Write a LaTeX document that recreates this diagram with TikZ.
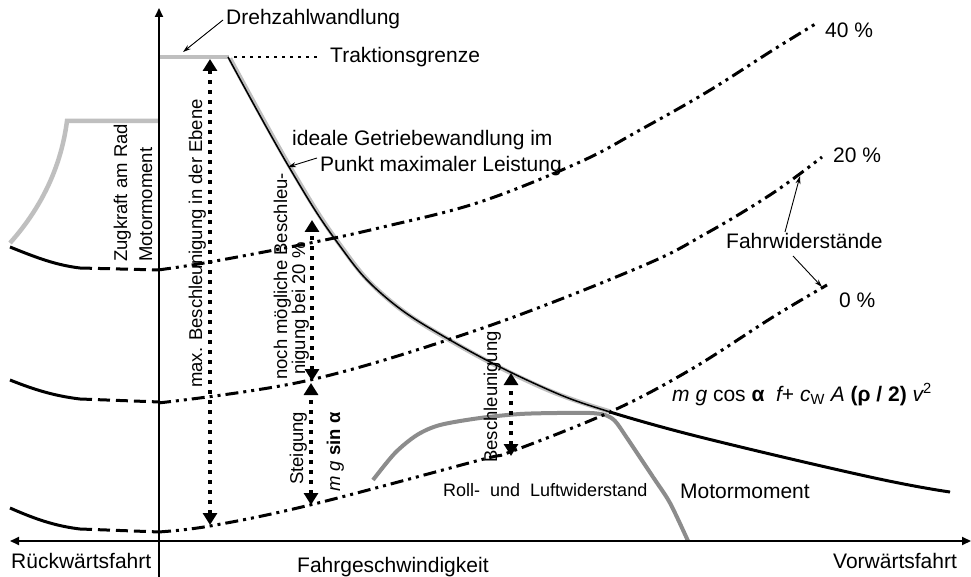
\documentclass[tikz,border=0pt]{standalone}
\usepackage{fontspec}
\setmainfont{Liberation Sans}
\usetikzlibrary{arrows.meta}
\begin{document}
\begin{tikzpicture}[x=1pt,y=-1pt,
  axis/.style={line width=2pt},
  fw/.style={line width=3pt, dash pattern=on 13pt off 5pt on 3pt off 5pt on 3pt off 5pt},
  backsolid/.style={line width=3pt},
  backdash/.style={line width=3pt, dash pattern=on 12pt off 6pt},
  dotarr/.style={line width=3.5pt, dash pattern=on 3.5pt off 6.5pt, {Triangle[width=14pt,length=12pt]}-{Triangle[width=14pt,length=12pt]}},
  lgray/.style={line width=4.5pt, color=black!25},
  dgray/.style={line width=4pt, color=black!45},
  thinarr/.style={line width=0.9pt, -{Stealth[length=8pt,width=5pt]}},
  lab/.style={font=\fontsize{21}{25}\selectfont, inner sep=0pt, anchor=base west},
  rlab/.style={font=\fontsize{18.5}{22}\selectfont, inner sep=0pt, anchor=base west, rotate=90},
]
\useasboundingbox (0,0) rectangle (971,577);
\fill[white] (0,0) rectangle (971,577);

% gray traction / wheel force curves
\draw[lgray] (10,243) .. controls (35,215) and (60,175) .. (67,121) -- (158,121);
\draw[lgray] (159,57) -- (229,57);
\begin{scope}[shift={(2,1.5)}]
\draw[lgray] plot[smooth, tension=0.7] coordinates {(228,57) (289,167) (337,242) (383,295) (450,340) (540,386) (608,410)};
\end{scope}
% motor torque (gray)
\draw[dgray] plot[smooth, tension=0.5] coordinates {(373,480) (395,453) (417,435) (440,425) (480,418) (520,414) (557,413) (590,413) (605,415) (615,421) (627,438) (653,477) (670,503) (688,541)};

% ideal hyperbola
\draw[line width=1.5pt] plot[smooth, tension=0.7] coordinates {(228,57) (289,167) (337,242) (383,295) (450,340) (540,386) (610,412) (700,437) (870,477) (950,492)};
\draw[line width=3pt] plot[smooth, tension=0.7] coordinates {(610,412) (700,437) (870,477) (950,492)};

% reverse side resistance curves
\draw[backsolid] (10,247) .. controls (35,257) and (55,265) .. (80,268);
\draw[backdash] (80,268) -- (160,270);
\draw[backsolid] (10,380) .. controls (35,390) and (55,396) .. (80,399);
\draw[backdash] (80,399) -- (160,402);
\draw[backsolid] (10,508) .. controls (35,519) and (55,526) .. (80,529);
\draw[backdash] (80,529) -- (160,532);

% driving resistances
\draw[fw] plot[smooth, tension=0.6] coordinates {(158,270) (210,262) (310,243) (383,227) (480,202) (580,162) (640,130) (707,92) (773,50) (817,23)};
\draw[fw] plot[smooth, tension=0.6] coordinates {(158,403) (310,380) (480,329) (640,267) (707,233) (773,193) (822,157)};
\draw[fw] plot[smooth, tension=0.6] coordinates {(158,532) (210,526) (310,505) (480,460) (510,452) (610,412) (690,370) (773,317) (827,285)};

% axes
\draw[axis, -{Triangle[length=9pt,width=8pt]}] (159,577) -- (159,8);
\draw[axis, {Triangle[length=9pt,width=8pt]}-{Triangle[length=9pt,width=8pt]}] (10,541) -- (971,541);

% traction limit dotted
\draw[line width=2.5pt, dash pattern=on 2.5pt off 5.5pt] (234,57) -- (318,57);

% dotted double arrows
\coordinate (a1t) at (210,59);  \coordinate (a1b) at (210,525);
\coordinate (a2t) at (312,220); \coordinate (a2b) at (312,381);
\coordinate (a3t) at (311,383); \coordinate (a3b) at (311,505);
\coordinate (a4t) at (511,373); \coordinate (a4b) at (511,456);
\draw[dotarr] (a1b) -- (a1t);
\draw[dotarr] (a2b) -- (a2t);
\draw[dotarr] (a3b) -- (a3t);
\draw[dotarr] (a4b) -- (a4t);

% labels
\node[lab] (dreh) at (226,25) {Drehzahlwandlung};
\node[lab] (trak) at (330,63) {Traktionsgrenze};
\node[lab] (p40) at (825,38) {40 \%};
\node[lab] (p20) at (833,163) {20 \%};
\node[lab] (p0) at (839,307) {0 \%};
\node[lab] (fahrw) at (726,248) {Fahrwiderstände};
\node[lab] (ideal1) at (292,146) {ideale Getriebewandlung im};
\node[lab] (ideal2) at (320,172) {Punkt maximaler Leistung};
\node[lab] (motor) at (680,498) {Motormoment};
\node[lab, font=\fontsize{18}{22}\selectfont] (roll) at (443,496) {Roll-\ \ und\ \ Luftwiderstand};
\node[lab, font=\fontsize{21}{25}\selectfont] (formel) at (672,401) {{\itshape m g} cos \textbf{α}\ \ {\itshape f}+ {\itshape c}\textsubscript{W} {\itshape A} \textbf{(ρ / 2)} {\itshape v}\textsuperscript{2}};
\node[lab] (vx) at (297,572) {Fahrgeschwindigkeit};
\node[lab] (rueck) at (11,568) {Rückwärtsfahrt};
\node[lab] (vor) at (833,568) {Vorwärtsfahrt};

\node[rlab] (zug1) at (127,262) {Zugkraft am Rad};
\node[rlab] (zug2) at (152,262) {Motormoment};
\node[rlab] (maxb) at (202,388) {max. Beschleunigung in der Ebene};
\node[rlab] (noch1) at (287,380) {noch mögliche Beschleu-};
\node[rlab] (noch2) at (305,375) {nigung bei 20 \%};
\node[rlab] (steig) at (303,485) {Steigung};
\node[rlab] (mgsin) at (340,492) {{\itshape m g} \textbf{sin α}};
\node[rlab] (besch) at (497,463) {Beschleunigung};

% thin pointer arrows
\coordinate (dtip) at (183,52);
\coordinate (gtip) at (288,167);
\coordinate (f20) at (800,176);
\coordinate (f0) at (822,287);
\draw[thinarr] (223,20) -- (dtip);
\draw[thinarr] (317,158) -- (gtip);
\draw[thinarr] (785,232) -- (f20);
\draw[thinarr] (793,256) -- (f0);
\end{tikzpicture}
\end{document}
